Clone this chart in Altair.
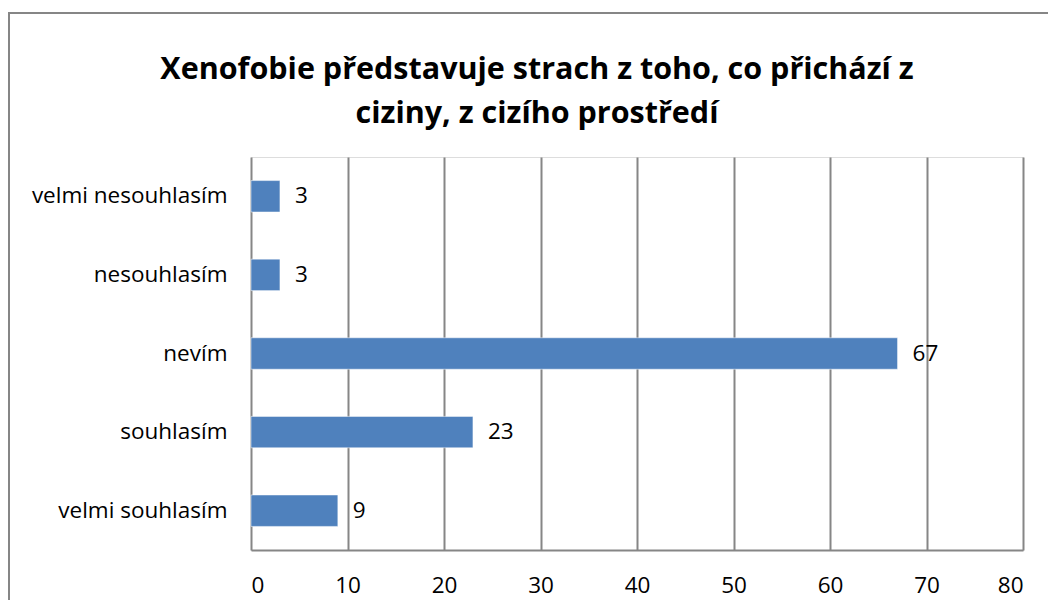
import altair as alt
import pandas as pd

categories = ["velmi nesouhlasím", "nesouhlasím", "nevím", "souhlasím", "velmi souhlasím"]
values = [3, 3, 67, 23, 9]
x_ticks = [0, 10, 20, 30, 40, 50, 60, 70, 80]
title_lines = ["Xenofobie představuje strach z toho, co přichází z", "ciziny, z cizího prostředí"]

df = pd.DataFrame({"kategorie": categories, "hodnota": values})

FONT = "Open Sans"
GRAY = "#868686"
FS = 22.5

base = alt.Chart(df).encode(
    y=alt.Y("kategorie:N", sort=categories, title=None,
            scale=alt.Scale(paddingInner=0.6, paddingOuter=0.3),
            axis=alt.Axis(labelFont=FONT, labelFontSize=FS, labelColor="#000000", labelLimit=400,
                          labelPadding=24, ticks=False, domain=False, grid=False)),
)

bars = base.mark_bar(color="#4F81BD", stroke="#FFFFFF", strokeWidth=0.5).encode(
    x=alt.X("hodnota:Q", title=None,
            scale=alt.Scale(domain=[0, 80], nice=False),
            axis=alt.Axis(values=x_ticks, labelFont=FONT, labelFontSize=FS, labelColor="#000000",
                          labelPadding=24, ticks=False, domain=True, domainColor=GRAY, domainWidth=2,
                          grid=True, gridColor=GRAY, gridWidth=2, gridOpacity=1)),
)

labels = base.mark_text(align="left", baseline="middle", dx=15, font=FONT, fontSize=FS, color="#000000").encode(
    x=alt.X("hodnota:Q"),
    text=alt.Text("hodnota:Q"),
)

border = alt.Chart(pd.DataFrame({"a": [0]})).mark_rect(
    fill=None, stroke=GRAY, strokeWidth=2
).encode(
    x=alt.value(-242), x2=alt.value(900), y=alt.value(-144), y2=alt.value(600)
)

chart = alt.layer(border, bars, labels).properties(
    width=772,
    height=393,
    autosize=alt.AutoSizeParams(type="none"),
    padding={"left": 243, "top": 149, "right": 25, "bottom": 50},
    title=alt.TitleParams(
        text=title_lines, font=FONT, fontSize=30.5, fontWeight="bold", color="#000000",
        anchor="middle", dx=-100, offset=-117, lineHeight=44, limit=1000,
    ),
).configure_view(stroke=None).configure(background="#FFFFFF")

chart.save("out.html", embed_options={"renderer": "svg", "actions": False})
